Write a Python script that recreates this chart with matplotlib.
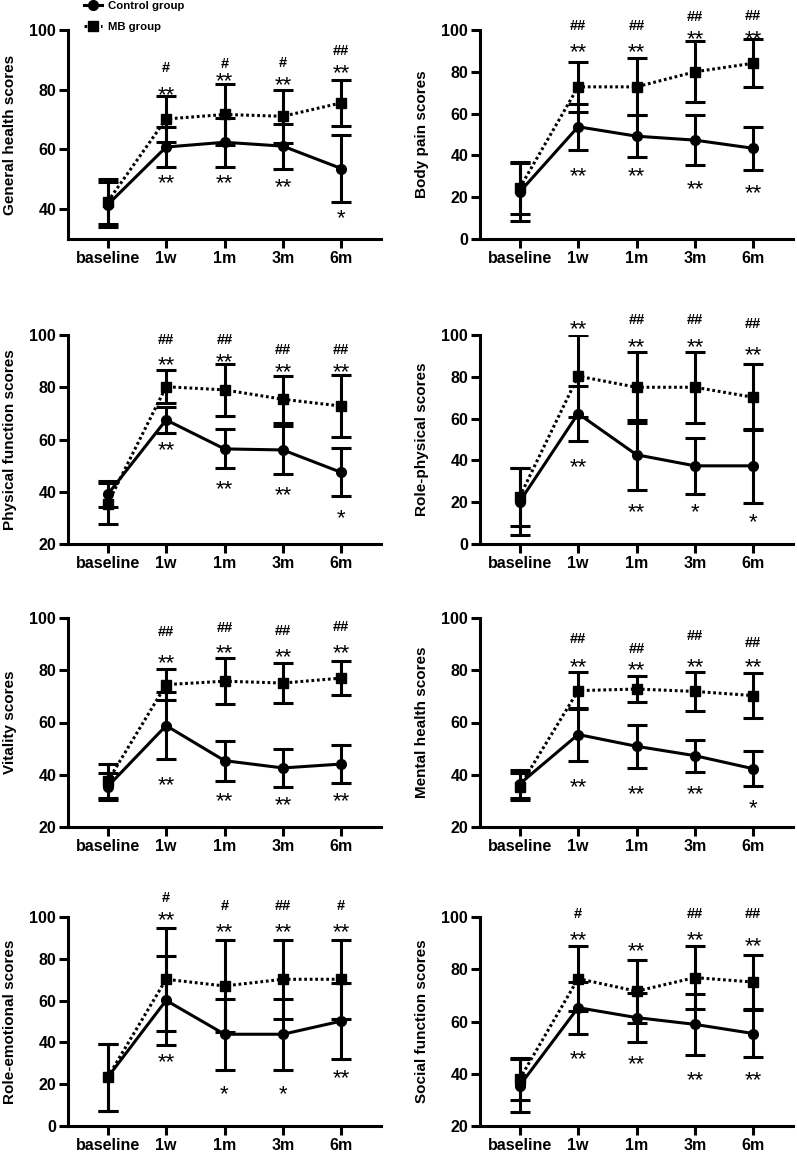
import numpy as np
import matplotlib.pyplot as plt

plt.rcParams['font.family'] = ['Liberation Sans', 'DejaVu Sans']

timepoints = ['baseline', '1w', '1m', '3m', '6m']

ylabels = ['General health scores', 'Body pain scores',
           'Physical function scores', 'Role-physical scores',
           'Vitality scores', 'Mental health scores',
           'Role-emotional scores', 'Social function scores']
ylims = [(30, 100), (0, 100), (20, 100), (0, 100),
         (20, 100), (20, 100), (0, 100), (20, 100)]

# means and SD
ctrl_mean = [
    [41.5, 60.8, 62.4, 61.1, 53.6],
    [22.5, 53.7, 49.2, 47.3, 43.4],
    [39.0, 67.5, 56.4, 56.0, 47.4],
    [20.3, 62.4, 42.7, 37.4, 37.4],
    [35.5, 58.8, 45.4, 42.6, 44.1],
    [36.5, 55.4, 50.9, 47.3, 42.3],
    [23.3, 60.1, 43.9, 43.9, 50.2],
    [35.5, 65.3, 61.5, 58.9, 55.4],
]
ctrl_sd = [
    [7.5, 6.6, 8.2, 7.5, 11.1],
    [14.0, 11.0, 10.1, 12.0, 10.4],
    [5.0, 5.1, 7.5, 9.1, 9.2],
    [16.0, 13.3, 16.8, 13.3, 17.6],
    [5.0, 12.8, 7.7, 7.3, 7.4],
    [5.5, 10.0, 8.3, 6.1, 6.7],
    [16.0, 21.2, 16.9, 16.9, 18.0],
    [10.0, 9.9, 9.5, 11.6, 9.0],
]
mb_mean = [
    [42.5, 70.2, 71.7, 71.1, 75.6],
    [24.4, 72.8, 72.8, 80.0, 84.1],
    [35.5, 80.2, 79.0, 75.4, 72.8],
    [22.6, 80.3, 75.0, 75.0, 70.2],
    [37.5, 74.5, 75.8, 75.1, 77.0],
    [35.5, 72.2, 72.8, 71.9, 70.3],
    [23.3, 70.2, 67.0, 70.2, 70.2],
    [38.0, 76.4, 71.6, 76.8, 75.1],
]
mb_sd = [
    [7.5, 7.6, 10.1, 8.9, 7.7],
    [12.5, 12.1, 13.7, 14.6, 11.6],
    [8.0, 6.4, 9.9, 8.9, 11.8],
    [14.0, 19.7, 17.0, 17.0, 15.7],
    [6.5, 6.0, 8.9, 7.7, 6.4],
    [5.0, 7.1, 4.9, 7.4, 8.7],
    [16.0, 24.7, 22.2, 19.0, 19.0],
    [8.0, 12.4, 12.0, 12.0, 10.5],
]

# significance marks: vs baseline (MB above, control below), MB vs control (#)
sig_mb = [['', '**', '**', '**', '**']] * 8
sig_ctrl = [
    ['', '**', '**', '**', '*'],
    ['', '**', '**', '**', '**'],
    ['', '**', '**', '**', '*'],
    ['', '**', '**', '*', '*'],
    ['', '**', '**', '**', '**'],
    ['', '**', '**', '**', '*'],
    ['', '**', '*', '*', '**'],
    ['', '**', '**', '**', '**'],
]
sig_group = [
    ['', '#', '#', '#', '##'],
    ['', '##', '##', '##', '##'],
    ['', '##', '##', '##', '##'],
    ['', '', '##', '##', '##'],
    ['', '##', '##', '##', '##'],
    ['', '##', '##', '##', '##'],
    ['', '#', '#', '##', '#'],
    ['', '#', '', '##', '##'],
]
# heights (data units) where the marks sit
sig_mb_y = [
    [0, 80.6, 85.3, 83.7, 88.0],
    [0, 92.8, 92.8, 98.9, 98.9],
    [0, 91.1, 92.3, 88.5, 88.5],
    [0, 106.2, 97.4, 97.4, 93.6],
    [0, 85.3, 89.2, 87.6, 89.2],
    [0, 83.7, 82.8, 83.7, 83.7],
    [0, 101.6, 96.0, 96.0, 96.0],
    [0, 93.6, 89.5, 93.6, 91.5],
]
sig_ctrl_y = [
    [0, 51.1, 51.1, 49.7, 39.4],
    [0, 33.5, 33.5, 27.1, 25.2],
    [0, 58.5, 43.5, 41.3, 32.4],
    [0, 40.0, 18.4, 18.7, 13.6],
    [0, 38.8, 32.4, 31.1, 32.4],
    [0, 37.8, 35.2, 35.2, 29.8],
    [0, 33.8, 18.3, 18.3, 26.3],
    [0, 48.3, 46.4, 40.3, 40.3],
]
sig_group_y = [
    [0, 87.8, 88.9, 89.4, 93.3],
    [0, 102.4, 102.4, 106.9, 107.2],
    [0, 98.5, 98.5, 94.6, 94.6],
    [0, 0, 107.5, 107.5, 105.9],
    [0, 94.9, 96.6, 95.3, 97.1],
    [0, 92.3, 88.5, 93.4, 90.7],
    [0, 109.6, 105.6, 105.6, 105.6],
    [0, 101.5, 0, 101.5, 101.5],
]

W, H = 797, 1152
fig = plt.figure(figsize=(W / 100, H / 100), dpi=100)

lw = 2.2
x = np.arange(len(timepoints))
row_top = [30, 335, 618, 917]
col_left = [68, 480]

for k in range(8):
    r, c = divmod(k, 2)
    ax = fig.add_axes([col_left[c] / W, (H - row_top[r] - 209) / H,
                       313 / W, 209 / H])

    ax.errorbar(x, mb_mean[k], yerr=mb_sd[k], fmt='none', ecolor='black',
                elinewidth=lw, capsize=7, capthick=lw)
    ax.errorbar(x, ctrl_mean[k], yerr=ctrl_sd[k], fmt='none', ecolor='black',
                elinewidth=lw, capsize=7, capthick=lw)
    l_mb, = ax.plot(x, mb_mean[k], color='black', lw=lw, ls=(0, (0.9, 0.9)),
                    marker='s', ms=6.5, label='MB group')
    l_ctrl, = ax.plot(x, ctrl_mean[k], color='black', lw=lw, ls='-',
                      marker='o', ms=7, label='Control group')

    for i in range(len(timepoints)):
        if sig_mb[k][i]:
            ax.annotate(sig_mb[k][i], (x[i], sig_mb_y[k][i]), xytext=(0, -9.3),
                        textcoords='offset points', ha='center', va='baseline',
                        fontsize=16, annotation_clip=False)
        if sig_ctrl[k][i]:
            ax.annotate(sig_ctrl[k][i], (x[i], sig_ctrl_y[k][i]), xytext=(0, -9.3),
                        textcoords='offset points', ha='center', va='baseline',
                        fontsize=16, annotation_clip=False)
        if sig_group[k][i]:
            ax.annotate(sig_group[k][i], (x[i], sig_group_y[k][i]),
                        xytext=(0, -3.7), textcoords='offset points',
                        ha='center', va='baseline', fontsize=10.5,
                        fontweight='bold', annotation_clip=False)

    lo, hi = ylims[k]
    ax.set_ylim(lo, hi)
    ax.set_yticks(np.arange(lo if lo % 20 == 0 else lo + 10, hi + 1, 20))
    ax.set_xlim(-0.68, 4.68)
    ax.set_xticks(x)
    ax.set_xticklabels(timepoints)
    ax.set_ylabel(ylabels[k], fontsize=11, fontweight='bold', labelpad=9)
    for s in ['top', 'right']:
        ax.spines[s].set_visible(False)
    for s in ['left', 'bottom']:
        ax.spines[s].set_linewidth(lw)
    ax.tick_params(width=lw, length=6.5, labelsize=11.5, pad=2)
    for t in ax.get_xticklabels() + ax.get_yticklabels():
        t.set_fontweight('bold')

    if k == 0:
        handles = [l_ctrl, l_mb]

fig.legend(handles=handles, loc='upper left', bbox_to_anchor=(0.105, 0.999),
           frameon=False, prop={'size': 8.2, 'weight': 'bold'}, numpoints=1,
           handlelength=1.6, handletextpad=0.55, labelspacing=0.95,
           borderpad=0, borderaxespad=0)

fig.savefig('out.png', dpi=100)
